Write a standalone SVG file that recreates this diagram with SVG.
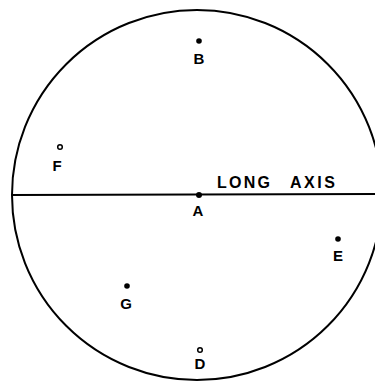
<svg xmlns="http://www.w3.org/2000/svg" width="375" height="382" viewBox="0 0 375 382">
<style>
.lbl{font-family:"Liberation Sans",Arial,sans-serif;font-weight:bold;font-size:15px;fill:#000;text-anchor:middle}
.ax{font-family:"Liberation Sans",Arial,sans-serif;font-weight:bold;font-size:16px;fill:#000}
.dot{fill:#000}
.open{fill:#fff;stroke:#000;stroke-width:1.5}
.ln{fill:none;stroke:#000;stroke-width:2}
</style>
<rect width="375" height="382" fill="#fff"/>
<g id="outline">
<ellipse class="ln" cx="197" cy="195" rx="185" ry="185"/>
</g>
<g id="connectors">
<line class="ln" x1="12" y1="195" x2="375" y2="194"/>
</g>
<text class="ax" x="217" y="188" textLength="53" lengthAdjust="spacing">LONG</text>
<text class="ax" x="290" y="188" textLength="45" lengthAdjust="spacing">AXIS</text>
<g id="A"><circle class="dot" cx="199" cy="195" r="3"/><text class="lbl" x="198" y="216">A</text></g>
<g id="B"><circle class="dot" cx="199" cy="41" r="2.8"/><text class="lbl" x="199" y="64">B</text></g>
<g id="D"><circle class="open" cx="200" cy="350" r="2.3"/><text class="lbl" x="200" y="369">D</text></g>
<g id="E"><circle class="dot" cx="338" cy="239" r="2.8"/><text class="lbl" x="338" y="261">E</text></g>
<g id="F"><circle class="open" cx="60" cy="147" r="2.3"/><text class="lbl" x="57" y="171">F</text></g>
<g id="G"><circle class="dot" cx="127" cy="286" r="2.8"/><text class="lbl" x="126" y="309">G</text></g>
</svg>
